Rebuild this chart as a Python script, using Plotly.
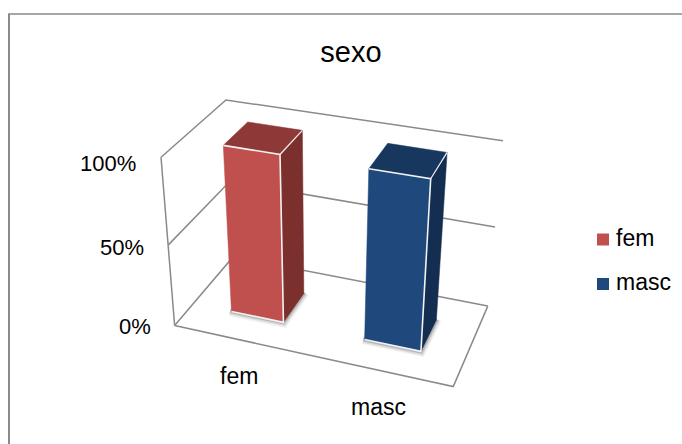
import numpy as np
import plotly.graph_objects as go

# Chart content
title = "sexo"
categories = ["fem", "masc"]
values = [100, 100]
tick_values = [0, 50, 100]
tick_labels = ["0%", "50%", "100%"]

# Face colours per category: front, top, side
front_colors = ["#C0504D", "#1F497D"]
top_colors = ["#8E3937", "#17375E"]
side_colors = ["#7B302E", "#132E51"]
GRID = "#8A8A8A"

# Footprint of a bar inside its category slot, and within the floor depth
BAR_LO, BAR_HI = 0.3, 0.7
DEPTH_LO, DEPTH_HI = 0.3, 0.7

# Perspective camera, solved from where the plot box corners land on the page:
# (category position, depth, percent) -> (page x, page y)
anchors_world = np.array([
    [0, 0, 0], [0, 1, 0], [2, 1, 0], [2, 0, 0],
    [0, 0, 100], [0, 1, 100], [2, 1, 100],
    [0, 0, 50], [2, 1, 50],
], dtype=float)
anchors_page = np.array([
    [175, 325.5], [233, 257], [488, 305.5], [453, 387],
    [161, 157], [226, 100], [503, 141],
    [168, 245], [495, 227],
], dtype=float)


def solve_camera(world, page):
    rows, rhs = [], []
    for (X, Y, Z), (px, py) in zip(world, page):
        rows.append([X, Y, Z, 1, 0, 0, 0, 0, -px * X, -px * Y, -px * Z])
        rhs.append(px)
        rows.append([0, 0, 0, 0, X, Y, Z, 1, -py * X, -py * Y, -py * Z])
        rhs.append(py)
    h = np.linalg.lstsq(np.array(rows), np.array(rhs), rcond=None)[0]
    return np.append(h, 1.0).reshape(3, 4)


CAMERA = solve_camera(anchors_world, anchors_page)


def project(points):
    pts = np.column_stack([np.array(points, dtype=float), np.ones(len(points))])
    out = pts @ CAMERA.T
    return out[:, 0] / out[:, 2], out[:, 1] / out[:, 2]


fig = go.Figure()


def add_path(points, color, width, opacity=1.0):
    xs, ys = project(points)
    fig.add_trace(go.Scatter(x=xs, y=ys, mode="lines", opacity=opacity,
                             line=dict(color=color, width=width),
                             hoverinfo="skip", showlegend=False))


def add_face(points, color, name):
    xs, ys = project(points + points[:1])
    fig.add_trace(go.Scatter(x=xs, y=ys, mode="lines", fill="toself",
                             fillcolor=color, line=dict(color=color, width=0.5),
                             name=name, hoverinfo="name", showlegend=False))


# Walls and floor
add_path([[0, 0, 0], [0, 0, tick_values[-1]]], GRID, 1.5)
for z in tick_values:
    add_path([[0, 0, z], [0, 1, z], [2, 1, z]], GRID, 1.5)
add_path([[2, 1, 0], [2, 0, 0], [0, 0, 0]], GRID, 1.5)

# Bars, back faces first
for i, (cat, val) in enumerate(zip(categories, values)):
    u0, u1 = i + BAR_LO, i + BAR_HI
    v0, v1 = DEPTH_LO, DEPTH_HI
    # Soft contact shadow along the lower front and right edges
    foot = [[u0 - 0.01, v0, 0], [u1, v0, 0], [u1, v1 + 0.01, 0]]
    for w, op in [(10, 0.08), (7, 0.14), (4, 0.28)]:
        add_path(foot, "#555555", w, op)
    add_face([[u1, v0, 0], [u1, v1, 0], [u1, v1, val], [u1, v0, val]], side_colors[i], cat)
    add_face([[u0, v0, val], [u1, v0, val], [u1, v1, val], [u0, v1, val]], top_colors[i], cat)
    add_face([[u0, v0, 0], [u1, v0, 0], [u1, v0, val], [u0, v0, val]], front_colors[i], cat)
    add_path([[u0, v0, 0], [u1, v0, 0], [u1, v0, val], [u0, v0, val]], "#F2F2F2", 1.6)
    add_path([[u1, v0, val], [u1, v1, val]], "#F2F2F2", 1.2)

# Value axis labels sit just left of the front wall edge
tick_x, tick_y = project([[0, 0, z] for z in tick_values])
tick_dx = {0: -22, 50: -22, 100: -23}
tick_dy = {0: 1, 50: 2, 100: 6}
annotations = [
    dict(x=x + tick_dx[v], y=y + tick_dy[v], text=lab, xanchor="right", yanchor="middle",
         showarrow=False, font=dict(size=22))
    for x, y, lab, v in zip(tick_x, tick_y, tick_labels, tick_values)
]

# Category labels below the front floor edge
cat_x, cat_y = project([[i + 0.5, 0, 0] for i in range(len(categories))])
annotations += [
    dict(x=x - 1, y=y + 36.5, text=cat, xanchor="center", yanchor="middle",
         showarrow=False, font=dict(size=23))
    for x, y, cat in zip(cat_x, cat_y, categories)
]

# Key on the right
key_x = [603, 603]
key_y = [239.5, 284]
fig.add_trace(go.Scatter(
    x=key_x, y=key_y, mode="markers",
    marker=dict(symbol="square", size=12, color=front_colors, line=dict(width=0)),
    hoverinfo="skip", showlegend=False,
))
annotations += [
    dict(x=614, y=y - 2, text=cat, xanchor="left", yanchor="middle",
         showarrow=False, font=dict(size=23))
    for y, cat in zip(key_y, categories)
]

fig.update_layout(
    width=682, height=444, margin=dict(l=0, r=0, t=0, b=0),
    paper_bgcolor="white", plot_bgcolor="white", showlegend=False,
    font=dict(family="Liberation Sans, Arial, sans-serif", color="#000000"),
    xaxis=dict(range=[0, 682], visible=False, fixedrange=True),
    yaxis=dict(range=[444, 0], visible=False, fixedrange=True),
    title=dict(text=title, x=351 / 682, xanchor="center", y=1 - 52 / 444, yanchor="middle",
               font=dict(size=29, color="#000000")),
    annotations=annotations,
    shapes=[
        dict(type="line", xref="x", yref="y", x0=9, y0=444, x1=9, y1=14,
             line=dict(color="#8A8A8A", width=2)),
        dict(type="line", xref="x", yref="y", x0=8, y0=14, x1=682, y1=14,
             line=dict(color="#8A8A8A", width=1.5)),
    ],
)

fig.write_html("out.html")
